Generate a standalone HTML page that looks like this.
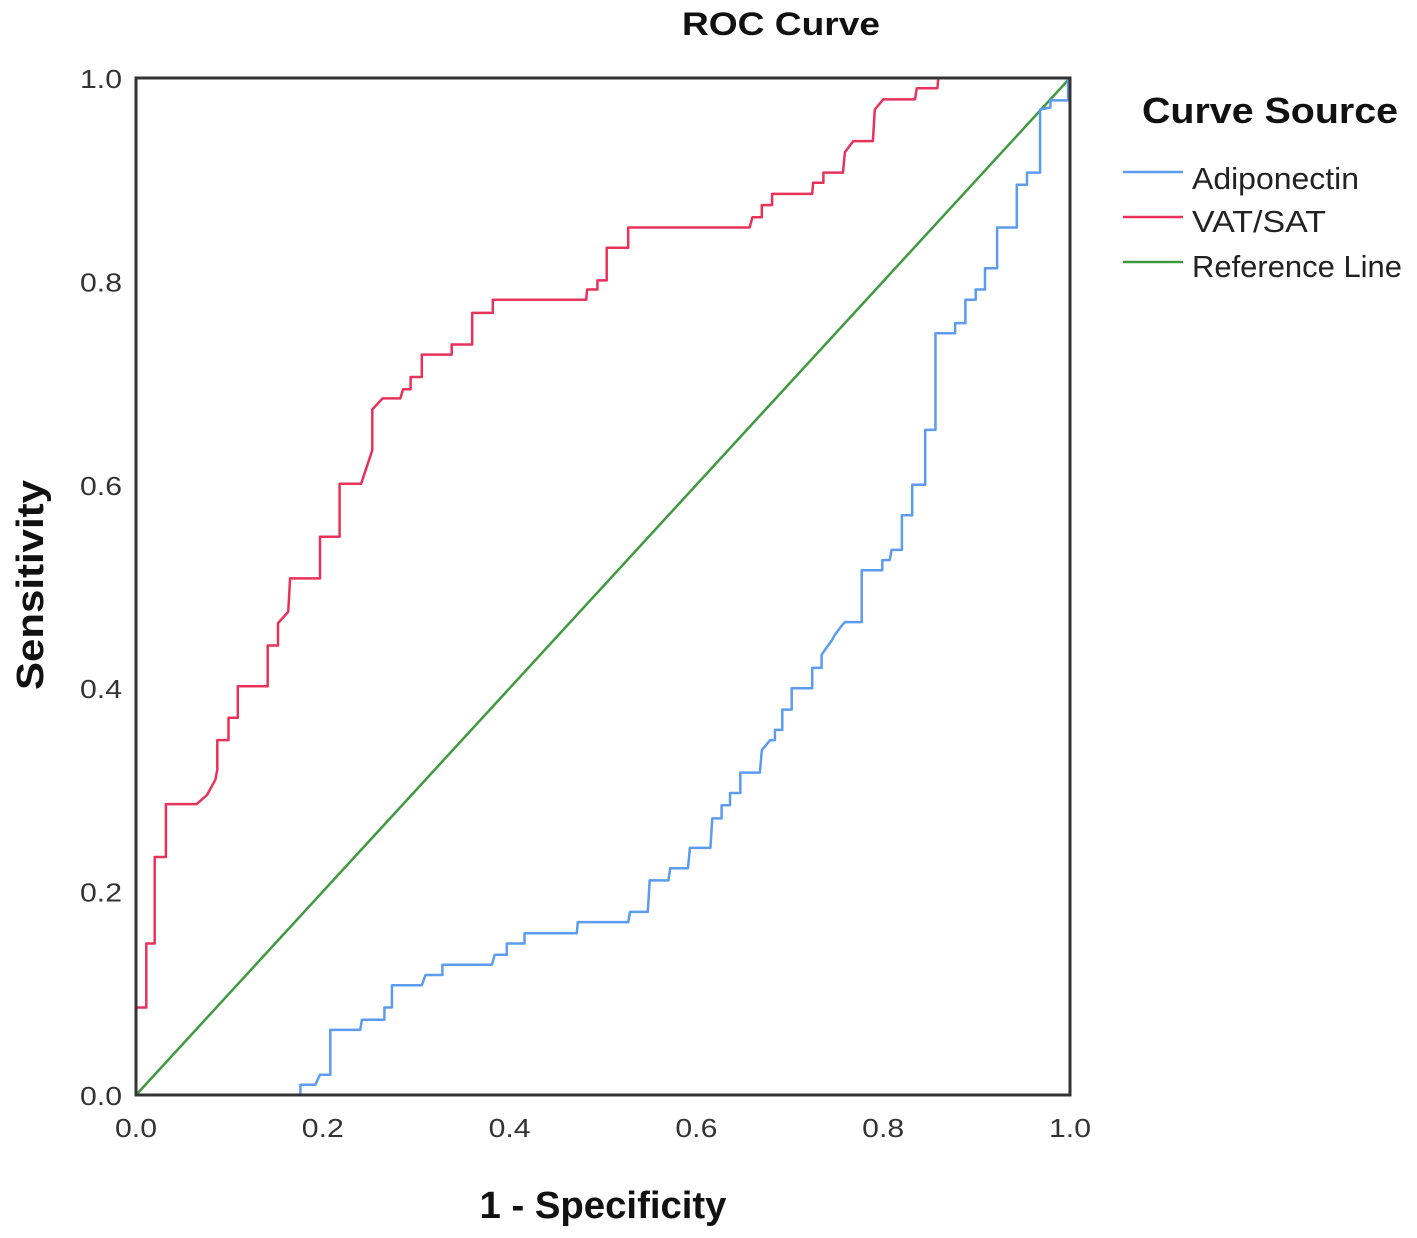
<!DOCTYPE html>
<html><head><meta charset="utf-8"><style>
html,body{margin:0;padding:0;background:#fff;}
svg{display:block;font-family:"Liberation Sans",sans-serif;}
</style></head><body>
<svg id="chart" width="1417" height="1238" viewBox="0 0 1417 1238">
<rect x="0" y="0" width="1417" height="1238" fill="#fff"/>
<text x="781" y="35" text-anchor="middle" font-size="32" font-weight="bold" fill="#111" textLength="198" lengthAdjust="spacingAndGlyphs">ROC Curve</text>
<g id="grid"></g>
<text x="603" y="1218" text-anchor="middle" font-size="38" font-weight="bold" fill="#111" textLength="247" lengthAdjust="spacingAndGlyphs">1 - Specificity</text>
<text x="0" y="0" transform="translate(43,585) rotate(-90)" text-anchor="middle" font-size="38" font-weight="bold" fill="#111" textLength="210" lengthAdjust="spacingAndGlyphs">Sensitivity</text>
<g>
<text x="1142" y="123" font-size="36" font-weight="bold" fill="#111" textLength="256" lengthAdjust="spacingAndGlyphs">Curve Source</text>
<line x1="1123" y1="172" x2="1183" y2="172" stroke="#5b9bf0" stroke-width="2.5"/>
<text x="1192" y="189" font-size="31" fill="#222" textLength="167" lengthAdjust="spacingAndGlyphs">Adiponectin</text>
<line x1="1123" y1="217" x2="1183" y2="217" stroke="#e8325a" stroke-width="2.5"/>
<text x="1192" y="232" font-size="31" fill="#222" textLength="134" lengthAdjust="spacingAndGlyphs">VAT/SAT</text>
<line x1="1123" y1="262" x2="1183" y2="262" stroke="#3f9a3f" stroke-width="2.5"/>
<text x="1192" y="277" font-size="31" fill="#222" textLength="210" lengthAdjust="spacingAndGlyphs">Reference Line</text>
</g>
</svg>
<script>
const ticks = [0, 0.2, 0.4, 0.6, 0.8, 1.0];
const tickLabels = ["0.0", "0.2", "0.4", "0.6", "0.8", "1.0"];
const redFpr = [0,0,.011,.011,.020,.020,.032,.032,.065,.076,.085,.087,.087,.099,.099,.109,.109,.141,.141,.152,.152,.163,.165,.197,.197,.218,.218,.241,.253,.253,.264,.283,.286,.294,.294,.306,.306,.338,.338,.360,.360,.382,.382,.482,.483,.494,.494,.504,.504,.527,.527,.657,.660,.670,.670,.681,.681,.724,.725,.736,.736,.757,.759,.768,.789,.791,.800,.834,.836,.858,.859,1];
const redTpr = [0,.086,.086,.149,.149,.234,.234,.286,.286,.295,.310,.320,.349,.349,.371,.371,.402,.402,.442,.442,.464,.475,.508,.508,.549,.549,.601,.601,.634,.674,.685,.685,.694,.694,.706,.706,.728,.728,.738,.738,.769,.769,.782,.782,.792,.792,.801,.801,.833,.833,.853,.853,.863,.863,.875,.875,.886,.886,.897,.897,.907,.907,.927,.938,.938,.969,.979,.979,.990,.990,1,1];
const blueFpr = [0,.176,.176,.192,.197,.208,.208,.240,.242,.266,.266,.274,.274,.306,.310,.328,.328,.381,.384,.397,.397,.416,.416,.472,.473,.527,.529,.548,.550,.570,.572,.591,.593,.615,.617,.627,.627,.636,.636,.647,.647,.668,.670,.679,.684,.684,.692,.692,.702,.702,.724,.724,.734,.734,.745,.748,.756,.759,.777,.777,.799,.799,.807,.809,.820,.820,.831,.831,.845,.845,.856,.856,.877,.877,.888,.888,.899,.899,.909,.909,.922,.922,.943,.943,.954,.954,.968,.968,.979,.979,.998,.998,1];
const blueTpr = [0,0,.010,.010,.020,.020,.064,.064,.074,.074,.086,.086,.108,.108,.118,.118,.128,.128,.138,.138,.149,.149,.159,.159,.170,.170,.180,.180,.211,.211,.223,.223,.243,.243,.272,.272,.285,.285,.297,.297,.317,.317,.339,.349,.349,.359,.359,.379,.379,.400,.400,.420,.420,.433,.447,.452,.462,.465,.465,.516,.516,.526,.526,.536,.536,.570,.570,.600,.600,.654,.654,.749,.749,.759,.759,.782,.782,.792,.792,.813,.813,.853,.853,.895,.895,.907,.907,.969,.971,.978,.978,1,1];
const refFpr = [0, 1];
const refTpr = [0, 1];

const X0 = 136, X1 = 1070, Y0 = 1095, Y1 = 78;
function sx(v){ return X0 + v * (X1 - X0); }
function sy(v){ return Y0 - v * (Y0 - Y1); }
const NS = "http://www.w3.org/2000/svg";
const g = document.getElementById('grid');
function mk(tag, attrs){ const e = document.createElementNS(NS, tag); for (const k in attrs) e.setAttribute(k, attrs[k]); return e; }

ticks.forEach((t, i) => {
  const xl = mk('text', {x: sx(t), y: 1137, 'text-anchor': 'middle', 'font-size': 26, fill: '#333', textLength: 42, lengthAdjust: 'spacingAndGlyphs'});
  
  
  xl.textContent = tickLabels[i];
  g.appendChild(xl);
  const yl = mk('text', {x: 122, y: sy(t) + 10, 'text-anchor': 'end', 'font-size': 26, fill: '#333', textLength: 42, lengthAdjust: 'spacingAndGlyphs'});
  
  
  yl.textContent = tickLabels[i];
  g.appendChild(yl);
});

function line(fx, ty, color, name){
  const pts = fx.map((v, i) => sx(v).toFixed(1) + ',' + sy(ty[i]).toFixed(1)).join(' ');
  const p = mk('polyline', {points: pts, fill: 'none', stroke: color, 'stroke-width': 2.5, 'stroke-linejoin': 'round'});
  
  
  g.appendChild(p);
}
line(refFpr, refTpr, '#3f9a3f', 'reference-line');
line(blueFpr, blueTpr, '#5b9bf0', 'adiponectin-curve');
line(redFpr, redTpr, '#e8325a', 'vat-sat-curve');

const frame = mk('rect', {x: X0, y: Y1, width: X1 - X0, height: Y0 - Y1, fill: 'none', stroke: '#333', 'stroke-width': 3});


g.appendChild(frame);
</script>
</body></html>
